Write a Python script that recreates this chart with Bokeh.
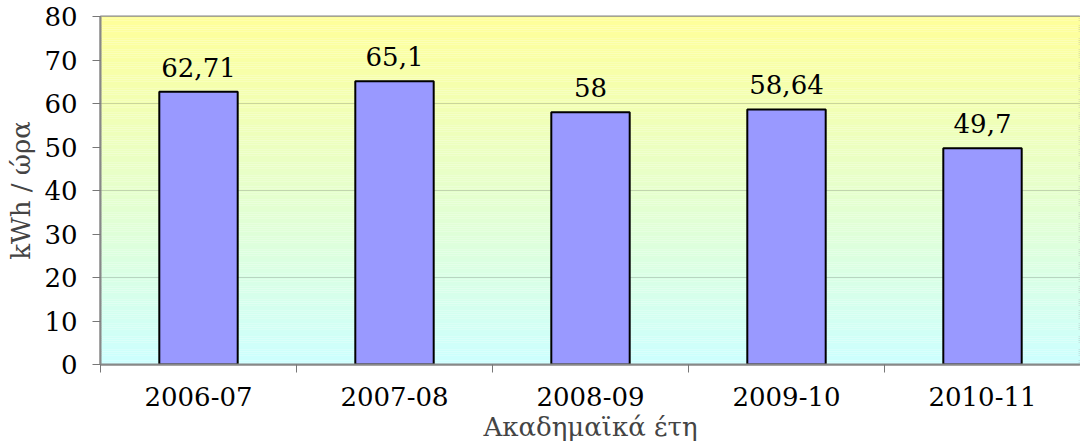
from bokeh.plotting import figure
from bokeh.models import ColumnDataSource, FixedTicker, Range1d
from bokeh.core.properties import value
from bokeh.embed import file_html
from bokeh.resources import INLINE

categories = ["2006-07", "2007-08", "2008-09", "2009-10", "2010-11"]
values = [62.71, 65.1, 58, 58.64, 49.7]
y_ticks = [0, 10, 20, 30, 40, 50, 60, 70, 80]

FONT = "DejaVu Serif"
FS = "26px"

xs = [i + 0.5 for i in range(len(categories))]
labels = [f"{v:g}".replace(".", ",") for v in values]
src = ColumnDataSource(dict(x=xs, top=values, label=labels))

p = figure(width=1080, height=444, output_backend="svg",
           toolbar_location=None, x_range=Range1d(0, len(categories)),
           y_range=Range1d(0, 80), min_border_left=100, min_border_top=16,
           min_border_right=0, min_border_bottom=80)

p.background_fill_color = "white"
p.border_fill_color = "white"
# gradient background (yellow top -> cyan bottom)
top_c = (255, 255, 153)
bot_c = (204, 255, 255)
n = 160
bands_b, bands_t, cols = [], [], []
for i in range(n):
    f = (i + 0.5) / n
    c = tuple(int(round(bot_c[k] + (top_c[k] - bot_c[k]) * f)) for k in range(3))
    cols.append("#%02x%02x%02x" % c)
    bands_b.append(80 * i / n)
    bands_t.append(80 * (i + 1) / n)
p.quad(left=0, right=len(categories), bottom=bands_b, top=bands_t,
       fill_color=cols, line_color=None)

p.vbar(x="x", top="top", width=0.4, bottom=0, source=src,
       fill_color="#9999FF", line_color="black", line_width=2)

p.text(x="x", y="top", text="label", source=src,
       text_align="center", text_baseline="bottom",
       y_offset=-15, text_font=value(FONT), text_font_size=value(FS),
       text_color="black")

p.xgrid.visible = False
p.ygrid.ticker = FixedTicker(ticks=y_ticks[1:-1])
p.ygrid.grid_line_color = "#555555"
p.ygrid.grid_line_width = 1
p.ygrid.level = "underlay"

p.outline_line_color = "#888888"
p.outline_line_width = 2

xa = p.xaxis[0]
xa.ticker = FixedTicker(ticks=xs, minor_ticks=list(range(len(categories) + 1)))
xa.major_label_overrides = {x: c for x, c in zip(xs, categories)}
xa.major_tick_out = 0
xa.major_tick_in = 0
xa.minor_tick_out = 8
xa.minor_tick_in = 0
xa.minor_tick_line_color = "#777777"
xa.axis_line_color = "#888888"
xa.axis_line_width = 2
xa.major_label_standoff = 14
xa.major_label_text_font = FONT
xa.major_label_text_font_size = FS
xa.major_label_text_color = "black"
xa.axis_label = "Ακαδημαϊκά έτη"
xa.axis_label_text_font = FONT
xa.axis_label_text_font_size = FS
xa.axis_label_text_font_style = "normal"
xa.axis_label_standoff = 3

ya = p.yaxis[0]
ya.ticker = FixedTicker(ticks=y_ticks)
ya.major_tick_out = 8
ya.major_tick_in = 0
ya.minor_tick_line_color = None
ya.major_tick_line_color = "#777777"
ya.axis_line_color = "#888888"
ya.axis_line_width = 2
ya.major_label_standoff = 15
ya.major_label_text_font = FONT
ya.major_label_text_font_size = FS
ya.major_label_text_color = "black"
ya.axis_label = "kWh / ώρα"
ya.axis_label_text_font = FONT
ya.axis_label_text_font_size = FS
ya.axis_label_text_font_style = "normal"
ya.axis_label_standoff = 5

open("out.html", "w").write(file_html(p, INLINE))
